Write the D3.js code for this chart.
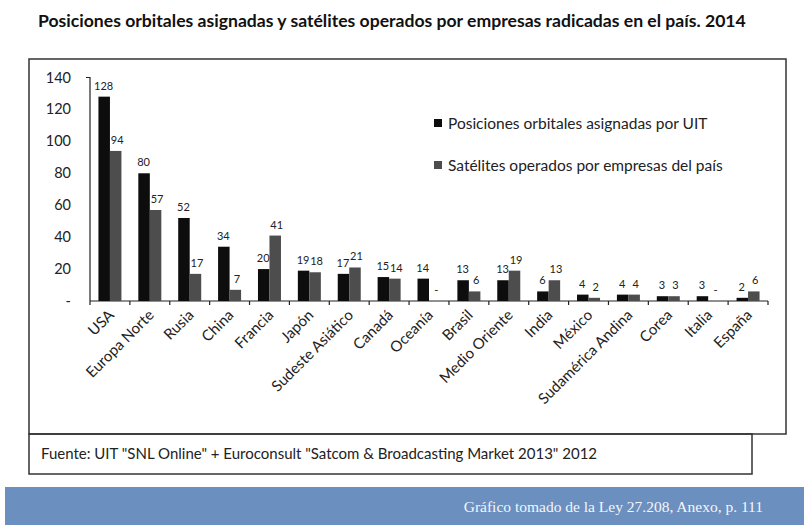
<!DOCTYPE html>
<html>
<head>
<meta charset="utf-8">
<script src="https://cdn.jsdelivr.net/npm/d3@7"></script>
<style>
  html, body { margin: 0; padding: 0; background: #fff; }
  svg { display: block; }
  text { font-family: Lato, "Open Sans", sans-serif; }
  text.serif { font-family: "Liberation Serif", "DejaVu Serif", serif; }
</style>
</head>
<body>
<svg id="chart" width="804" height="525"></svg>
<script>
const categories = ["USA", "Europa Norte", "Rusia", "China", "Francia", "Japón",
  "Sudeste Asiático", "Canadá", "Oceanía", "Brasil", "Medio Oriente", "India",
  "México", "Sudamérica Andina", "Corea", "Italia", "España"];
const posiciones = [128, 80, 52, 34, 20, 19, 17, 15, 14, 13, 13, 6, 4, 4, 3, 3, 2];
const satelites  = [94, 57, 17, 7, 41, 18, 21, 14, 0, 6, 19, 13, 2, 4, 3, 0, 6];
const seriesNames = ["Posiciones orbitales asignadas por UIT", "Satélites operados por empresas del país"];
const yTicks = [0, 20, 40, 60, 80, 100, 120, 140];

const svg = d3.select("#chart");

// Title
svg.append("text")
  .attr("x", 38).attr("y", 27)
  .attr("font-size", 17.6).attr("font-weight", "bold").attr("fill", "#111")
  .text("Posiciones orbitales asignadas y satélites operados por empresas radicadas en el país. 2014");

// Chart frame and source frame
svg.append("rect").attr("x", 29).attr("y", 59).attr("width", 757).attr("height", 375)
  .attr("fill", "none").attr("stroke", "#333").attr("stroke-width", 1.5);
svg.append("rect").attr("x", 29).attr("y", 434).attr("width", 723).attr("height", 40)
  .attr("fill", "none").attr("stroke", "#333").attr("stroke-width", 1.5);

// Scales
const x = d3.scaleBand().domain(categories).range([90, 768]).paddingInner(0).paddingOuter(0);
const y = d3.scaleLinear().domain([0, 140]).range([301, 77.5]);
const barW = 11.5;

const fmt = v => v === 0 ? "-" : String(v);

// Y axis labels
svg.append("g").selectAll("text").data(yTicks).join("text")
  .attr("x", 71).attr("y", d => y(d) + 5)
  .attr("text-anchor", "end").attr("font-size", 14.5).attr("fill", "#222")
  .text(fmt);

// Y axis line with top tick
svg.append("path")
  .attr("d", `M86,${y(140)}H90V${y(0)}`)
  .attr("fill", "none").attr("stroke", "#222").attr("stroke-width", 1.2);

// X axis with ticks at band boundaries
const xAxis = svg.append("g");
xAxis.append("line").attr("x1", 90).attr("x2", 768).attr("y1", y(0)).attr("y2", y(0))
  .attr("stroke", "#222").attr("stroke-width", 1.2);
xAxis.selectAll("line.tick").data(categories.concat([null])).join("line")
  .attr("class", "tick")
  .attr("x1", (d, i) => 90 + i * x.step()).attr("x2", (d, i) => 90 + i * x.step())
  .attr("y1", y(0)).attr("y2", y(0) + 4)
  .attr("stroke", "#222").attr("stroke-width", 1.2);

// Bars
const g = svg.append("g");
const cx = d => x(d) + x.bandwidth() / 2;

g.selectAll("rect.pos").data(categories).join("rect")
  .attr("class", "pos")
  .attr("x", d => cx(d) - barW)
  .attr("y", (d, i) => y(posiciones[i]))
  .attr("width", barW)
  .attr("height", (d, i) => y(0) - y(posiciones[i]))
  .attr("fill", "#0d0d0d");

g.selectAll("rect.sat").data(categories).join("rect")
  .attr("class", "sat")
  .attr("x", d => cx(d))
  .attr("y", (d, i) => y(satelites[i]))
  .attr("width", barW)
  .attr("height", (d, i) => y(0) - y(satelites[i]))
  .attr("fill", "#4d4d4d");

// Value labels
g.selectAll("text.lpos").data(categories).join("text")
  .attr("class", "lpos")
  .attr("x", d => cx(d) - barW / 2 - 0.5)
  .attr("y", (d, i) => y(posiciones[i]) - 7)
  .attr("text-anchor", "middle").attr("font-size", 11).attr("fill", "#222")
  .text((d, i) => fmt(posiciones[i]));

g.selectAll("text.lsat").data(categories).join("text")
  .attr("class", "lsat")
  .attr("x", d => cx(d) + barW / 2 + 1.5)
  .attr("y", (d, i) => y(satelites[i]) - 7)
  .attr("text-anchor", "middle").attr("font-size", 11).attr("fill", "#222")
  .text((d, i) => fmt(satelites[i]));

// Category labels, rotated
svg.append("g").selectAll("text").data(categories).join("text")
  .attr("transform", d => `translate(${cx(d) + 5},${y(0) + 15}) rotate(-45)`)
  .attr("text-anchor", "end").attr("font-size", 15).attr("fill", "#222")
  .text(d => d);

// Legend
const legend = svg.append("g");
const legendColors = ["#0d0d0d", "#4d4d4d"];
seriesNames.forEach((name, i) => {
  const ly = 123 + i * 42;
  legend.append("rect").attr("x", 434).attr("y", ly - 4).attr("width", 8).attr("height", 8)
    .attr("fill", legendColors[i]);
  legend.append("text").attr("x", 448).attr("y", ly + 5.5)
    .attr("font-size", 15.5).attr("fill", "#222").text(name);
});

// Source
svg.append("text").attr("x", 41).attr("y", 459)
  .attr("font-size", 15).attr("fill", "#222")
  .text("Fuente: UIT \"SNL Online\" + Euroconsult \"Satcom & Broadcasting Market 2013\" 2012");

// Bottom band
svg.append("rect").attr("x", 5).attr("y", 487).attr("width", 799).attr("height", 38)
  .attr("fill", "#6b8fbf");
svg.append("text").attr("class", "serif")
  .attr("x", 763).attr("y", 512)
  .attr("text-anchor", "end").attr("font-size", 15.5).attr("fill", "#f4f6fa")
  .text("Gráfico tomado de la Ley 27.208, Anexo, p. 111");
</script>
</body>
</html>
